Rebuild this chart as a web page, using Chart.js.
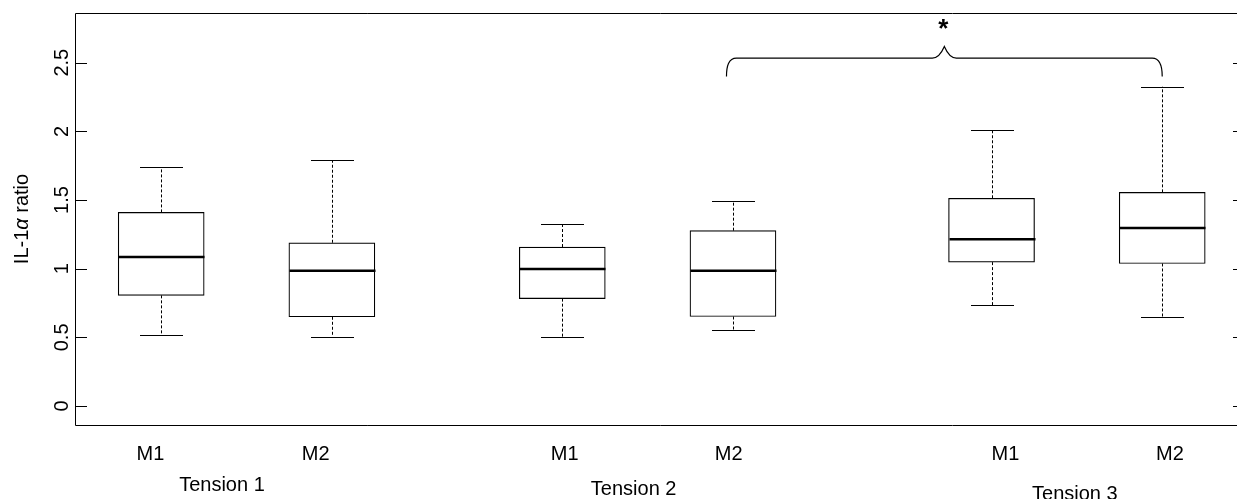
<!DOCTYPE html>
<html>
<head>
<meta charset="utf-8">
<script src="https://cdn.jsdelivr.net/npm/chart.js@4"></script>
<style>
  html, body { margin: 0; padding: 0; background: #fff; overflow: hidden; }
  #wrap { width: 1245px; height: 499px; position: relative; }
</style>
</head>
<body>
<div id="wrap"><canvas id="box-chart"></canvas></div>
<script>

// values
let groups = ['Tension 1', 'Tension 2', 'Tension 3'];
let methods = ['M1', 'M2', 'M1', 'M2', 'M1', 'M2'];
let boxPos = [1, 2, 3.35, 4.35, 5.865, 6.865];
let lowWhisker = [0.517, 0.505, 0.505, 0.551, 0.733, 0.650];
let q1 = [0.806, 0.650, 0.782, 0.652, 1.048, 1.038];
let median = [1.085, 0.985, 0.998, 0.985, 1.215, 1.296];
let q3 = [1.410, 1.189, 1.158, 1.277, 1.513, 1.556];
let highWhisker = [1.738, 1.791, 1.325, 1.494, 2.010, 2.325];

let yTicks = [0, 0.5, 1, 1.5, 2, 2.5];
let yTickLabels = ['0', '0.5', '1', '1.5', '2', '2.5'];

// where the text labels sit along x (data units)
let methodLabelPos = [0.937, 1.905, 3.364, 4.325, 5.946, 6.910];
let groupLabelPos = [1.356, 3.768, 6.353];

// significance brace between M2 of tension 2 and M2 of tension 3
let braceFrom = 4.312;
let braceTo = 6.865;
let braceY = 2.40;
let sigLabel = '*';

const FONT = '"Liberation Sans", Arial, sans-serif';

const boxExtras = {
    id: 'boxExtras',
    afterDatasetsDraw(chart) {
        const ctx = chart.ctx;
        const x = chart.scales.x;
        const y = chart.scales.y;
        const area = chart.chartArea;

        ctx.save();
        ctx.strokeStyle = '#000';

        // whiskers
        boxPos.forEach((p, i) => {
            let px = Math.round(x.getPixelForValue(p)) + 0.5;
            ctx.lineWidth = 1;
            ctx.setLineDash([3, 2]);
            ctx.beginPath();
            ctx.moveTo(px, y.getPixelForValue(q3[i]));
            ctx.lineTo(px, y.getPixelForValue(highWhisker[i]));
            ctx.moveTo(px, y.getPixelForValue(q1[i]));
            ctx.lineTo(px, y.getPixelForValue(lowWhisker[i]));
            ctx.stroke();
            ctx.setLineDash([]);

            // caps
            ctx.beginPath();
            let hi = Math.round(y.getPixelForValue(highWhisker[i])) + 0.5;
            let lo = Math.round(y.getPixelForValue(lowWhisker[i])) + 0.5;
            ctx.moveTo(px - 21.5, hi);
            ctx.lineTo(px + 21.5, hi);
            ctx.moveTo(px - 21.5, lo);
            ctx.lineTo(px + 21.5, lo);
            ctx.stroke();

            // median
            ctx.lineWidth = 2.4;
            ctx.beginPath();
            let my = y.getPixelForValue(median[i]);
            ctx.moveTo(px - 43, my);
            ctx.lineTo(px + 43, my);
            ctx.stroke();
        });

        // frame (right side is just past the page edge)
        ctx.lineWidth = 1;
        ctx.beginPath();
        ctx.moveTo(area.right, area.top + 0.5);
        ctx.lineTo(area.left + 0.5, area.top + 0.5);
        ctx.lineTo(area.left + 0.5, area.bottom + 0.5);
        ctx.lineTo(area.right, area.bottom + 0.5);
        ctx.stroke();

        // y ticks, inward on both sides
        ctx.beginPath();
        yTicks.forEach(v => {
            let ty = Math.round(y.getPixelForValue(v)) + 0.5;
            ctx.moveTo(area.left, ty);
            ctx.lineTo(area.left + 12, ty);
            ctx.moveTo(area.right - 12, ty);
            ctx.lineTo(area.right, ty);
        });
        ctx.stroke();

        ctx.fillStyle = '#000';
        ctx.font = '20px ' + FONT;
        ctx.textAlign = 'center';
        ctx.textBaseline = 'alphabetic';

        // y tick labels, rotated
        yTicks.forEach((v, i) => {
            ctx.save();
            ctx.translate(area.left - 7, y.getPixelForValue(v));
            ctx.rotate(-Math.PI / 2);
            ctx.fillText(yTickLabels[i], 0, 0);
            ctx.restore();
        });

        // y title with italic alpha
        let parts = [['IL-1', '20px ' + FONT], ['α', 'italic 20px ' + FONT], [' ratio', '20px ' + FONT]];
        let total = 0;
        parts.forEach(pt => { ctx.font = pt[1]; total += ctx.measureText(pt[0]).width; });
        ctx.save();
        ctx.translate(28, (area.top + area.bottom) / 2);
        ctx.rotate(-Math.PI / 2);
        ctx.textAlign = 'left';
        let cx = -total / 2;
        parts.forEach(pt => {
            ctx.font = pt[1];
            ctx.fillText(pt[0], cx, 0);
            cx += ctx.measureText(pt[0]).width;
        });
        ctx.restore();

        // x labels
        ctx.font = '20px ' + FONT;
        ctx.textAlign = 'center';
        methods.forEach((m, i) => {
            ctx.fillText(m, x.getPixelForValue(methodLabelPos[i]), area.bottom + 34.5);
        });
        let groupDrop = [66, 70, 75];
        groups.forEach((g, i) => {
            ctx.fillText(g, x.getPixelForValue(groupLabelPos[i]), area.bottom + groupDrop[i]);
        });

        // brace
        let bx0 = x.getPixelForValue(braceFrom);
        let bx1 = x.getPixelForValue(braceTo);
        let by = y.getPixelForValue(braceY);
        let top = by - 18.4;
        let mid = (bx0 + bx1) / 2;
        let peak = top - 11.6;
        ctx.lineWidth = 1.2;
        ctx.beginPath();
        ctx.moveTo(bx0, by);
        ctx.bezierCurveTo(bx0, by - 10, bx0 + 2, top, bx0 + 10, top);
        ctx.lineTo(mid - 12, top);
        ctx.quadraticCurveTo(mid - 5, top, mid, peak);
        ctx.quadraticCurveTo(mid + 5, top, mid + 12, top);
        ctx.lineTo(bx1 - 10, top);
        ctx.bezierCurveTo(bx1 - 2, top, bx1, by - 10, bx1, by);
        ctx.stroke();

        ctx.font = 'bold 26px ' + FONT;
        ctx.fillText(sigLabel, mid - 1, peak - 9);

        ctx.restore();
    }
};

let data = {
    datasets: [{
        data: boxPos.map((p, i) => ({ x: p, y: [q1[i], q3[i]] })),
        backgroundColor: '#fff',
        borderColor: '#000',
        borderWidth: 1.2,
        borderSkipped: false,
        barThickness: 86,
        grouped: false
    }]
};

let config = {
    type: 'bar',
    data: data,
    options: {
        responsive: true,
        maintainAspectRatio: false,
        animation: false,
        layout: { padding: { left: 75, top: 13, right: 0, bottom: 74 } },
        plugins: { legend: { display: false }, tooltip: { enabled: false } },
        scales: {
            x: { type: 'linear', min: 0.495, max: 7.350, offset: false, display: false },
            y: { min: -0.138, max: 2.862, display: false }
        }
    },
    plugins: [boxExtras]
};

new Chart(document.getElementById('box-chart'), config);

</script>
</body>
</html>
